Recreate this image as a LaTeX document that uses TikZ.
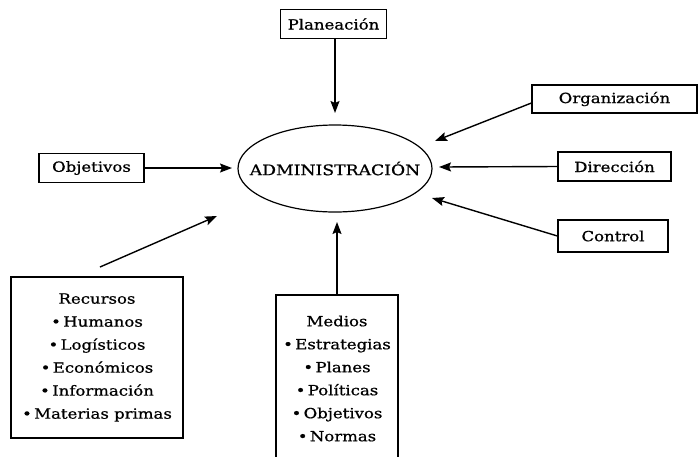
\documentclass[tikz,border=0pt]{standalone}
\usepackage{fontspec}
\setmainfont{DejaVu Serif}[FakeStretch=1.18,FakeBold=0.8]
\usetikzlibrary{arrows.meta,shapes.geometric}
\begin{document}
\begin{tikzpicture}[x=1pt,y=-1pt,
  every node/.style={font=\fontsize{14}{23}\selectfont},
  box/.style={draw,line width=1.2pt,inner sep=0pt,align=center},
  link/.style={line width=1.4pt,-{Stealth[length=12pt,width=9pt,inset=2pt]}}]
\useasboundingbox (0,0) rectangle (700,456);

% central concept
\node[ellipse,draw,line width=1.2pt,minimum width=194,minimum height=87,inner sep=0pt] (adm) at (335,168.5) {};
\node[font=\fontsize{14.6}{18}\selectfont] (admtext) at (adm.center) {ADMINISTRACIÓN};

% surrounding boxes
\node[box,minimum width=106,minimum height=29] (plan) at (333.5,24) {Planeación};
\node[box,minimum width=105,minimum height=29] (obj) at (91.5,168) {Objetivos};
\node[box,minimum width=165,minimum height=28] (org) at (614.5,99) {Organización};
\node[box,minimum width=113,minimum height=29] (dir) at (614.5,166.5) {Dirección};
\node[box,minimum width=110,minimum height=32] (ctl) at (613,236) {Control};
\node[box,minimum width=172,minimum height=161] (rec) at (97,357.5)
  {Recursos\\•\,Humanos\\•\,Logísticos\\•\,Económicos\\•\,Información\\•\,Materias primas};
\node[box,minimum width=122,minimum height=167] (med) at (337,378.5)
  {Medios\\•\,Estrategias\\•\,Planes\\•\,Políticas\\•\,Objetivos\\•\,Normas};

% arrow tips near the ellipse
\coordinate (tPlan) at (335,113);
\coordinate (tObj) at (232,168);
\coordinate (tOrg) at (435,141);
\coordinate (tDir) at (439,167);
\coordinate (tCtl) at (432,198);
\coordinate (tMed) at (337,222);
\coordinate (tRec) at (217,216);
\coordinate (sRec) at (100,267);

\draw[link] (plan.south -| tPlan) -- (tPlan);
\draw[link] (obj.east) -- (tObj);
\draw[link] ([yshift=-4pt]org.west) -- (tOrg);
\draw[link] (dir.west) -- (tDir);
\draw[link] (ctl.west) -- (tCtl);
\draw[link] (med.north) -- (tMed);
\draw[link] (sRec) -- (tRec);
\end{tikzpicture}
\end{document}
